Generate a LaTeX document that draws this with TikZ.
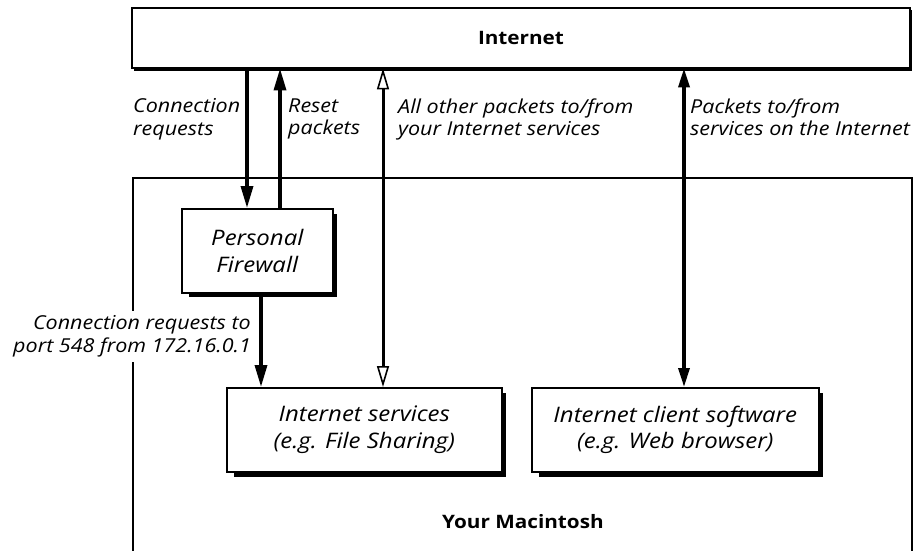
\documentclass[tikz,border=0pt]{standalone}
\usepackage{fontspec}
\setmainfont{Open Sans}[FakeStretch=1.12]
\usetikzlibrary{arrows.meta}
\tikzset{
  box/.style={draw=black, line width=1.6pt, fill=white, inner sep=0pt},
  shadowbox/.style={fill=black},
  lbl/.style={font=\fontsize{19.2}{22.5}\selectfont\itshape, align=left, inner sep=0pt},
  boxtxt/.style={font=\fontsize{21.4}{26.5}\selectfont\itshape, align=center, inner sep=0pt},
  title/.style={font=\fontsize{18.5}{22}\selectfont\bfseries, inner sep=0pt},
  arr/.style={line width=3.4pt, -{Triangle[length=22pt,width=12pt]}},
  darr/.style={line width=3.4pt, {Triangle[length=19pt,width=11pt]}-{Triangle[length=19pt,width=11pt]}},
  oarr/.style={line width=3pt, {Triangle[open,fill=white,length=21pt,width=12pt,line width=1.6pt]}-{Triangle[open,fill=white,length=21pt,width=12pt,line width=1.6pt]}},
}
\begin{document}
\begin{tikzpicture}[x=1pt,y=-1pt]
\useasboundingbox (0,0) rectangle (915,551);
% Internet box
\fill[shadowbox] (134,10) rectangle (911.5,71);
\draw[box] (132,8) rectangle (910,68);
\node[draw=none, fill=none, inner sep=0pt, minimum width=778pt, minimum height=60pt, anchor=north west] (inet) at (132,8) {};
\node[title] (inettxt) at (521,38) {Internet};
% Macintosh box
\draw[line width=1.5pt] (133,560) |- (912,178) -- (912,560);
\coordinate (mac) at (133,178);
\node[title] (mactxt) at (523,522) {Your Macintosh};
% Firewall
\fill[shadowbox] (189,214) rectangle (337,297);
\node[box, minimum width=151pt, minimum height=84pt, anchor=north west] (fw) at (181,208) {};
\node[boxtxt] (fwtxt) at (fw.center) {Personal\\Firewall};
% Services
\fill[shadowbox] (234,393) rectangle (506,477);
\node[box, minimum width=275pt, minimum height=84pt, anchor=north west] (svc) at (226,387) {};
\node[boxtxt] (svctxt) at (svc.center) {Internet services\\(e.g. File Sharing)};
% Client
\fill[shadowbox] (539,393) rectangle (823,477);
\node[box, minimum width=287pt, minimum height=84pt, anchor=north west] (cli) at (531,387) {};
\node[boxtxt] (clitxt) at (cli.center) {Internet client software\\(e.g. Web browser)};
% arrow x positions
\coordinate (xa) at (247,0);
\coordinate (xb) at (280,0);
\coordinate (xc) at (383,0);
\coordinate (xd) at (684,0);
\coordinate (xe) at (261,0);
\draw[arr] (xa |- inet.south) -- (xa |- fw.north);
\draw[arr] (xb |- fw.north) -- (xb |- inet.south);
\draw[oarr] (xc |- inet.south) -- (xc |- svc.north);
\draw[darr] (xd |- inet.south) -- (xd |- cli.north);
\draw[arr] (xe |- fw.south) -- (xe |- svc.north);
% labels
\node[lbl, anchor=north west] (l1) at (133,98.5) {Connection\\requests};
\node[lbl, anchor=north west] (l2) at (288,98.5) {Reset\\packets};
\node[lbl, anchor=north west] (l3) at (398,98.5) {All other packets to/from\\your Internet services};
\node[lbl, anchor=north west] (l4) at (690,98.5) {Packets to/from\\services on the Internet};
\node[lbl, align=right, anchor=north east, fill=white, inner xsep=2pt, inner ysep=5pt] (l5) at (253,310.5) {Connection requests to\\port 548 from 172.16.0.1};
\end{tikzpicture}
\end{document}
